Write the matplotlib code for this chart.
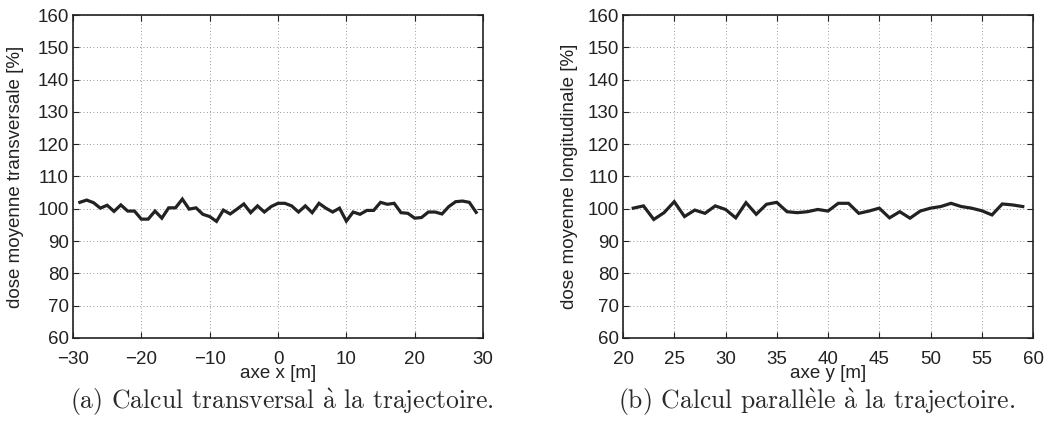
import matplotlib.pyplot as plt
import numpy as np

# ---------------- data ----------------
x_trans = list(range(-29, 30))
dose_trans = [102.0, 102.7, 101.9, 100.2, 101.1, 99.2, 101.2, 99.3, 99.3, 96.8,
              96.8, 99.3, 97.1, 100.3, 100.3, 103.0, 99.9, 100.3, 98.3, 97.6,
              96.1, 99.6, 98.4, 99.9, 101.5, 98.8, 100.9, 99.0, 100.7, 101.7,
              101.7, 100.9, 99.0, 100.9, 98.8, 101.7, 100.2, 99.0, 100.2, 96.2,
              99.0, 98.3, 99.5, 99.5, 102.0, 101.4, 101.7, 98.8, 98.6, 97.1,
              97.3, 99.0, 99.0, 98.4, 100.7, 102.2, 102.4, 102.0, 98.9]

y_long = list(range(21, 60))
dose_long = [100.2, 100.9, 96.7, 98.8, 102.2, 97.6, 99.6, 98.6, 100.9, 99.8,
             97.2, 101.9, 98.3, 101.4, 102.0, 99.1, 98.8, 99.1, 99.8, 99.3,
             101.7, 101.7, 98.6, 99.3, 100.2, 97.2, 99.1, 97.1, 99.3, 100.2,
             100.7, 101.7, 100.7, 100.2, 99.4, 98.1, 101.5, 101.2, 100.7]

yticks = list(range(60, 161, 10))
xticks_a = list(range(-30, 31, 10))
xticks_b = list(range(20, 61, 5))

# ---------------- plot ----------------
plt.rcParams['font.family'] = ['Liberation Sans', 'DejaVu Sans']
plt.rcParams['mathtext.fontset'] = 'cm'
fs = 13.5

fig = plt.figure(figsize=(10.46, 4.32), dpi=100)
ax1 = fig.add_axes([73/1046, 94/432, 410/1046, 323/432])
ax2 = fig.add_axes([623/1046, 94/432, 410/1046, 323/432])


def style(ax, xt, xlim, xlab, ylab, ylab_x):
    ax.set_xlim(xlim)
    ax.set_ylim(60, 160)
    ax.set_xticks(xt)
    ax.set_yticks(yticks)
    ax.set_xticklabels([str(v).replace('-', '\u2212') for v in xt])
    ax.tick_params(direction='in', length=4, width=0.8, top=True, right=True,
                   labelsize=fs, pad=3, colors='#222222')
    ax.tick_params(axis='x', pad=9)
    ax.grid(True, linestyle=(0, (1, 3)), color='#777777', linewidth=0.6)
    for s in ax.spines.values():
        s.set_linewidth(1.2)
        s.set_color('#222222')
    ax.set_xlabel(xlab, fontsize=fs, color='#222222')
    ax.xaxis.set_label_coords(0.5, -0.085)
    ax.set_ylabel(ylab, fontsize=fs, color='#222222')
    ax.yaxis.set_label_coords(ylab_x, 0.5)


ax1.plot(x_trans, dose_trans, color='#222222', lw=2.3, solid_joinstyle='miter')
style(ax1, xticks_a, (-30, 30), 'axe x [m]', 'dose moyenne transversale [%]', -0.12)

ax2.plot(y_long, dose_long, color='#222222', lw=2.3, solid_joinstyle='miter')
style(ax2, xticks_b, (20, 60), 'axe y [m]', 'dose moyenne longitudinale [%]', -0.11)

cap = dict(fontsize=18.5, family=['cmr10', 'DejaVu Serif'], ha='center',
           va='baseline', color='#2a2a2a')
fig.text(281.5/1046, 23/432,
         r'(a) Calcul transversal $\mathrm{\grave{a}}$ la trajectoire.', **cap)
fig.text(817/1046, 23/432,
         r'(b) Calcul parall$\mathrm{\grave{e}}$le $\mathrm{\grave{a}}$ la trajectoire.', **cap)

fig.savefig('out.png', dpi=100)
